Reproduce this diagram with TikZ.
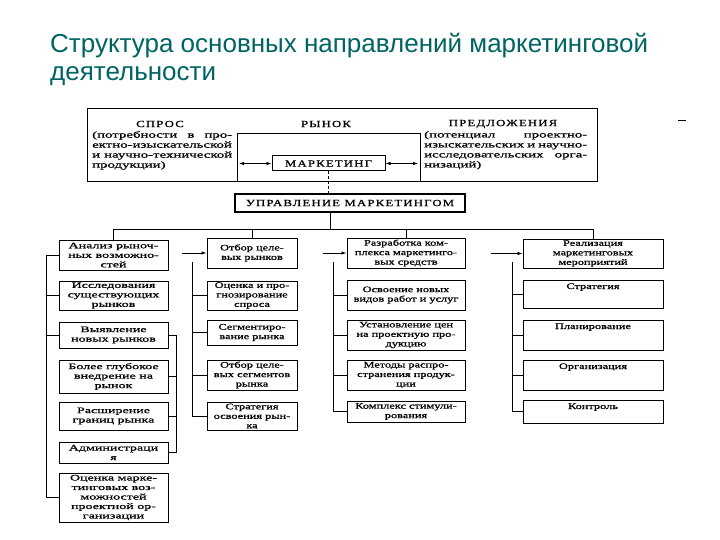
\documentclass[tikz,border=0pt]{standalone}
\usepackage{fontspec}
\setmainfont{Liberation Serif}
\newfontfamily\scanfont[FakeStretch=1.45,FakeBold=1]{Liberation Serif}
\newfontfamily\scanfontA[FakeStretch=1.65,FakeBold=1]{Liberation Serif}
\newfontfamily\scanpara[FakeStretch=1.65,FakeBold=1]{Liberation Serif}
\newfontfamily\scanwide[FakeStretch=1.35,LetterSpace=12,FakeBold=1]{Liberation Serif}
\newfontfamily\titlefont{Liberation Sans}
\usetikzlibrary{arrows.meta}
\definecolor{titleteal}{RGB}{0,100,100}
\begin{document}
\begin{tikzpicture}[x=1pt,y=-1pt,
  box/.style={draw, line width=1pt, inner sep=1pt, align=center,
    font=\scanfont\fontsize{8.5}{9.5}\selectfont},
  colA/.style={box, minimum width=109pt, font=\scanfontA\fontsize{8.5}{9.5}\selectfont},
  colB/.style={box, minimum width=90pt},
  colC/.style={box, minimum width=118pt},
  colD/.style={box, minimum width=140pt},
  topbox/.style={colD, inner sep=2pt, text height=7pt},
  caps/.style={inner sep=0pt, font=\scanwide\fontsize{9.5}{10}\selectfont},
  para/.style={inner sep=0pt, align=left, font=\scanpara\fontsize{9}{10}\selectfont},
  wire/.style={line width=0.8pt},
  arr/.style={wire, -{Latex[length=5pt,width=3.5pt]}},
  dbl/.style={wire, {Latex[length=5pt,width=3.5pt]}-{Latex[length=5pt,width=3.5pt]}}
]
\useasboundingbox (0,0) rectangle (720,540);

% title
\node[anchor=base west, inner sep=0pt, text=titleteal,
  font=\titlefont\fontsize{26}{28}\selectfont] (ttl1) at (50,53)
  {Структура основных направлений маркетинговой};
\node[anchor=base west, inner sep=0pt, text=titleteal,
  font=\titlefont\fontsize{26}{28}\selectfont] (ttl2) at (50,81)
  {деятельности};

% small dash at the right
\coordinate (dashA) at (678,121);
\coordinate (dashB) at (686,121);
\draw[line width=1pt] (dashA) -- (dashB);

% upper block
\node[draw, line width=1pt, minimum width=510pt, minimum height=73pt, inner sep=0pt] (top) at (342,145.5) {};
\draw[line width=0.8pt] (237,182) -- (237,133) -- (420,133) -- (420,182);

\node[caps] (spros) at (160,124) {СПРОС};
\node[caps] (rynok) at (326,124) {РЫНОК};
\node[caps] (pred) at (503,124) {ПРЕДЛОЖЕНИЯ};

\node[para, anchor=north west] (sprostxt) at (92,131)
  {\makebox[140pt][s]{(потребности в про-}\\
   ектно-изыскательской\\
   \makebox[140pt][s]{и научно-технической}\\
   продукции)};
\node[para, anchor=north west] (predtxt) at (424,131)
  {\makebox[163pt][s]{(потенциал проектно-}\\
   \makebox[163pt][s]{изыскательских и научно-}\\
   \makebox[163pt][s]{исследовательских орга-}\\
   низаций)};

\node[draw, line width=1pt, minimum width=113pt, minimum height=15pt, inner sep=0pt, caps] (mk) at (328.5,163.5) {МАРКЕТИНГ};
\coordinate (sprosR) at (239,163.5);
\coordinate (predL) at (418,163.5);
\draw[dbl] (sprosR) -- (mk.west);
\draw[dbl] (mk.east) -- (predL);

\node[draw, line width=1.2pt, minimum width=230pt, minimum height=18pt, inner sep=0pt, caps] (upr) at (350,203) {УПРАВЛЕНИЕ МАРКЕТИНГОМ};
\draw[wire, densely dashed] (mk.south) -- (mk.south |- upr.north);

% column 1
\node[colA, minimum height=30pt] (a1) at (113.5,255) {Анализ рыноч-\\ных возможно-\\стей};
\node[colA, minimum height=29pt] (a2) at (113.5,295.5) {Исследования\\существующих\\рынков};
\node[colA, minimum height=26pt] (a3) at (113.5,335) {Выявление\\новых рынков};
\node[colA, minimum height=33pt] (a4) at (113.5,376.5) {Более глубокое\\внедрение на\\рынок};
\node[colA, minimum height=28pt] (a5) at (113.5,416) {Расширение\\границ рынка};
\node[colA, minimum height=21pt] (a6) at (113.5,452.5) {Администраци\\я};
\node[colA, minimum height=49pt] (a7) at (113.5,497.5) {Оценка марке-\\тинговых воз-\\можностей\\проектной ор-\\ганизации};

% column 2
\node[colB, minimum height=30pt] (b1) at (252,253) {Отбор целе-\\вых рынков};
\node[colB, minimum height=29pt] (b2) at (252,295.5) {Оценка и про-\\гнозирование\\спроса};
\node[colB, minimum height=25pt] (b3) at (252,332.5) {Сегментиро-\\вание рынка};
\node[colB, minimum height=30pt] (b4) at (252,375) {Отбор целе-\\вых сегментов\\рынка};
\node[colB, minimum height=28pt] (b5) at (252,416) {Стратегия\\освоения рын-\\ка};

% column 3
\node[colC, minimum height=30pt] (c1) at (406,253) {Разработка ком-\\плекса маркетинго-\\вых средств};
\node[colC, minimum height=30pt] (c2) at (406,295) {Освоение новых\\видов работ и услуг};
\node[colC, minimum height=30pt] (c3) at (406,335) {Установление цен\\на проектную про-\\дукцию};
\node[colC, minimum height=30pt] (c4) at (406,375) {Методы распро-\\странения продук-\\ции};
\node[colC, minimum height=21pt] (c5) at (406,411.5) {Комплекс стимули-\\рования};

% column 4
\node[colD, minimum height=29pt] (d1) at (593,253.5) {Реализация\\маркетинговых\\мероприятий};
\node[topbox, text depth=17pt] (d2) at (593,294) {Стратегия};
\node[topbox, text depth=19pt] (d3) at (593,335) {Планирование};
\node[topbox, text depth=19pt] (d4) at (593,375) {Организация};
\node[topbox, text depth=12pt] (d5) at (593,411.5) {Контроль};

% bus from УПРАВЛЕНИЕ
\coordinate (bus) at (0,229);
\path ([xshift=-20pt]upr.south) coordinate (stem);
\draw[wire] (stem) -- (stem |- bus);
\draw[wire] (a1.north) -- (a1.north |- bus) -- (d1.north |- bus) -- (d1.north);
\draw[wire] (b1.north) -- (b1.north |- bus);
\draw[wire] (c1.north) -- (c1.north |- bus);

% arrows between first boxes
\path ([xshift=13pt]a1.east) coordinate (a1e);
\path ([xshift=25pt]b1.east) coordinate (b1e);
\path ([xshift=25pt]c1.east) coordinate (c1e);
\draw[arr] (a1e |- b1.west) -- (b1.west);
\draw[arr] (b1e |- c1.west) -- (c1.west);
\draw[arr] (c1e |- d1.west) -- (d1.west);

% column 1 left bracket
\draw[wire] (a1.west) -- ++(-12,0) coordinate (l1) -- (l1 |- a7.west) -- (a7.west);
\draw[wire] (a2.west) -- (a2.west -| l1);
\draw[wire] (a3.west) -- (a3.west -| l1);
% column 1 right bracket
\draw[wire] (a3.east) -- ++(8,0) coordinate (r1) -- (r1 |- a6.east) -- (a6.east);
\draw[wire] (a4.east) -- (a4.east -| r1);
\draw[wire] (a5.east) -- (a5.east -| r1);

% column 2 bracket
\coordinate (k2) at (192,262);
\draw[wire] (k2) -- (k2 |- b5.west) -- (b5.west);
\draw[wire] (b2.west) -- (b2.west -| k2);
\draw[wire] (b3.west) -- (b3.west -| k2);
\draw[wire] (b4.west) -- (b4.west -| k2);

% column 3 bracket
\coordinate (k3) at (333,262);
\draw[wire] (k3) -- (k3 |- c5.west) -- (c5.west);
\draw[wire] (c2.west) -- (c2.west -| k3);
\draw[wire] (c3.west) -- (c3.west -| k3);
\draw[wire] (c4.west) -- (c4.west -| k3);

% column 4 bracket
\coordinate (k4) at (512,262);
\draw[wire] (k4) -- (k4 |- d5.west) -- (d5.west);
\draw[wire] (d2.west) -- (d2.west -| k4);
\draw[wire] (d3.west) -- (d3.west -| k4);
\draw[wire] (d4.west) -- (d4.west -| k4);
\end{tikzpicture}
\end{document}
